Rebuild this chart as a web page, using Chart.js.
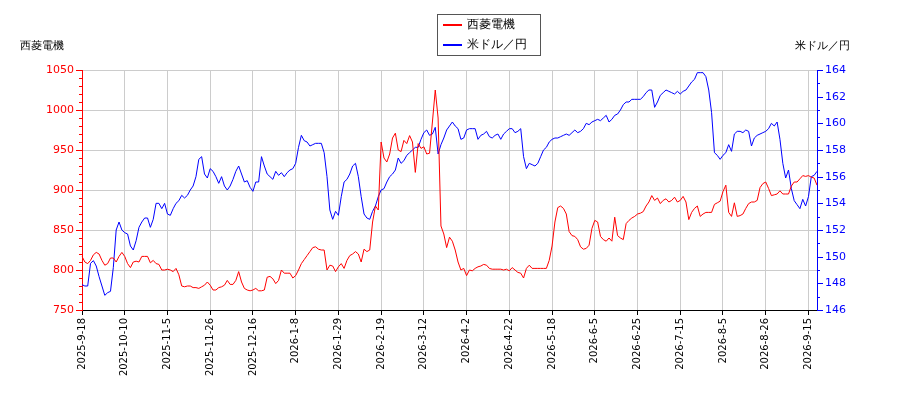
<!DOCTYPE html>
<html><head><meta charset="utf-8">
<script src="https://cdn.jsdelivr.net/npm/chart.js@4.4.0/dist/chart.umd.min.js"></script>
<style>html,body{margin:0;padding:0;background:#fff}#w{width:900px;height:400px}</style>
</head><body><div id="w"><canvas id="c"></canvas></div>
<script>
const tickLabels = ["2025-9-18","2025-10-10","2025-11-5","2025-11-26","2025-12-16","2026-1-8","2026-1-29","2026-2-19","2026-3-12","2026-4-2","2026-4-22","2026-5-18","2026-6-5","2026-6-25","2026-7-15","2026-8-5","2026-8-26","2026-9-15"];
const stockName = "西菱電機";
const fxName = "米ドル／円";
const stock = [817,810,808,812,819,822,820,812,806,808,815,815,810,817,822,817,808,803,810,811,
810,817,817,817,809,812,808,807,800,800,801,800,798,802,794,780,779,780,780,778,
778,777,779,781,785,781,775,775,778,779,781,787,782,782,787,798,785,777,775,774,
775,777,774,774,775,791,792,789,783,787,800,796,796,796,790,793,800,808,813,818,
823,828,829,826,825,825,800,806,805,798,804,808,802,812,818,820,823,820,810,826,
823,825,860,880,875,960,940,935,945,965,971,950,948,962,958,968,960,922,958,952,
954,945,946,985,1025,990,855,845,828,841,836,825,810,800,802,793,800,799,802,804,
805,807,806,802,801,801,801,801,800,801,799,803,800,797,796,790,802,806,802,802,
802,802,802,802,812,830,860,878,880,877,870,848,843,842,838,829,826,827,831,852,
862,860,842,838,836,840,836,866,843,840,838,858,862,865,867,870,871,873,880,885,
893,887,890,883,887,889,885,887,891,885,887,892,885,863,872,877,880,867,870,872,
872,872,882,884,886,898,906,872,867,884,867,868,870,877,883,885,885,887,903,908,
910,902,893,894,895,899,895,895,895,905,910,910,914,918,917,918,916,915,906];
const fx = [147.9,147.8,147.8,149.5,149.7,149.3,148.5,147.8,147.1,147.3,147.4,149.2,152,152.6,152,151.8,151.7,150.8,150.5,151.2,
152.2,152.6,152.9,152.9,152.2,152.8,154,154,153.6,154,153.2,153.1,153.6,154,154.2,154.6,154.4,154.6,155,155.3,
156,157.3,157.5,156.2,155.9,156.6,156.4,156,155.5,156,155.3,155,155.3,155.8,156.4,156.8,156.2,155.6,155.7,155.2,
154.9,155.6,155.6,157.5,156.8,156.2,156,155.8,156.4,156.1,156.3,156,156.3,156.5,156.6,157,158.2,159.1,158.7,158.6,
158.3,158.4,158.5,158.5,158.5,157.8,156,153.5,152.8,153.4,153.1,154.5,155.6,155.8,156.2,156.8,157,156,154.5,153.2,
152.9,152.8,153.4,153.8,154.5,155,155.1,155.6,156,156.2,156.5,157.4,157,157.2,157.6,157.8,158,158.2,158.2,158.8,
159.3,159.5,159.1,159.2,159.7,157.7,158.4,158.9,159.5,159.8,160.1,159.8,159.6,158.8,158.9,159.5,159.6,159.6,159.6,158.8,
159.1,159.2,159.4,159,158.9,159.1,159.2,158.8,159.2,159.4,159.6,159.6,159.3,159.4,159.6,157.5,156.6,157,156.9,156.8,
157,157.5,158,158.2,158.6,158.8,158.9,158.9,159,159.1,159.2,159.1,159.3,159.5,159.3,159.4,159.6,160,159.9,160.1,
160.2,160.3,160.2,160.4,160.6,160.1,160.3,160.6,160.7,161,161.4,161.6,161.6,161.8,161.8,161.8,161.8,162,162.3,162.5,
162.5,161.2,161.6,162.1,162.3,162.5,162.4,162.3,162.2,162.4,162.2,162.4,162.5,162.8,163.1,163.3,163.8,163.8,163.8,163.5,
162.5,160.8,157.8,157.6,157.3,157.6,157.8,158.4,157.9,159.2,159.4,159.4,159.3,159.5,159.4,158.3,158.9,159.1,159.2,159.3,
159.4,159.6,160,159.8,160.1,158.8,157,155.9,156.5,155.1,154.2,153.9,153.6,154.3,153.8,154.5,156,156.1,156.4];
const labels = stock.map((_, i) => (i % 15 === 0 ? tickLabels[i / 15] : ""));

const deco = {
  id: 'deco',
  afterDraw(ch) {
    const c = ch.ctx, a = ch.chartArea;
    c.save();
    c.font = '11px "DejaVu Sans"';
    c.fillStyle = '#000';
    c.textBaseline = 'middle';
    c.textAlign = 'left'; c.fillText(stockName, 20, 46);
    c.textAlign = 'right'; c.fillText(fxName, 850, 46);
    c.fillStyle = '#fff'; c.strokeStyle = '#555'; c.lineWidth = 1;
    c.fillRect(437.5, 14.5, 103, 41); c.strokeRect(437.5, 14.5, 103, 41);
    c.lineWidth = 2;
    c.strokeStyle = '#ff0000'; c.beginPath(); c.moveTo(443, 25); c.lineTo(462, 25); c.stroke();
    c.strokeStyle = '#0000ff'; c.beginPath(); c.moveTo(443, 45); c.lineTo(462, 45); c.stroke();
    c.fillStyle = '#000'; c.textAlign = 'left'; c.font = '12px "DejaVu Sans"';
    c.fillText(stockName, 467, 25); c.fillText(fxName, 467, 45);
    c.lineWidth = 1;
    const yl = ch.scales.y, yr = ch.scales.y1;
    c.strokeStyle = '#ff0000';
    for (let v = 750; v <= 1050; v += 10) { const y = Math.round(yl.getPixelForValue(v)) + 0.5; const L = v % 50 ? 3 : 6; c.beginPath(); c.moveTo(a.left - L, y); c.lineTo(a.left, y); c.stroke(); }
    c.strokeStyle = '#0000ff';
    for (let v = 146; v <= 164; v += 1) { const y = Math.round(yr.getPixelForValue(v)) + 0.5; const L = v % 2 ? 3 : 6; c.beginPath(); c.moveTo(a.right, y); c.lineTo(a.right + L, y); c.stroke(); }
    c.restore();
  }
};

new Chart(document.getElementById('c'), {
  type: 'line',
  data: { labels, datasets: [
    { label: stockName, data: stock, borderColor: '#ff0000', borderWidth: 1, pointRadius: 0, yAxisID: 'y', tension: 0 },
    { label: fxName, data: fx, borderColor: '#0000ff', borderWidth: 1, pointRadius: 0, yAxisID: 'y1', tension: 0 }
  ]},
  options: {
    responsive: true, maintainAspectRatio: false, animation: false,
    layout: { padding: { top: 70, left: 0, right: 0, bottom: 0 } },
    plugins: { legend: { display: false }, tooltip: { enabled: false } },
    scales: {
      x: {
        offset: false,
        grid: {
          color: (ctx) => (ctx.index % 15 === 0 ? '#cccccc' : 'rgba(0,0,0,0)'),
          tickColor: (ctx) => (ctx.index % 15 === 0 ? '#000' : 'rgba(0,0,0,0)'),
          drawTicks: true, tickLength: 5
        },
        border: { color: '#000' },
        ticks: { autoSkip: false, maxRotation: 90, minRotation: 90, color: '#000', font: { size: 10, family: 'DejaVu Sans' },
          callback: function(v, i) { return labels[i]; } },
        afterFit(s) { s.height = 90; }
      },
      y: {
        position: 'left', min: 750, max: 1050,
        grid: { color: '#cccccc', drawTicks: false },
        border: { color: '#ff0000' },
        ticks: { stepSize: 50, color: '#ff0000', padding: 8, font: { size: 11, family: 'DejaVu Sans' }, callback: (v) => String(v) },
        afterFit(s) { s.width = 82; }
      },
      y1: {
        position: 'right', min: 146, max: 164,
        grid: { drawOnChartArea: false, drawTicks: false },
        border: { color: '#0000ff' },
        ticks: { stepSize: 2, color: '#0000ff', padding: 8, font: { size: 11, family: 'DejaVu Sans' }, callback: (v) => String(v) },
        afterFit(s) { s.width = 83; }
      }
    }
  },
  plugins: [deco]
});
</script></body></html>
